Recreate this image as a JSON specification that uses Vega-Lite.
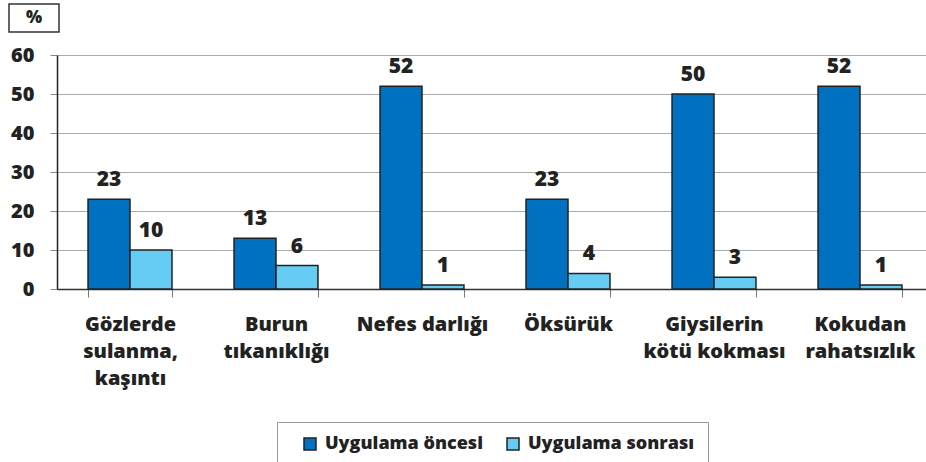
{
  "$schema": "https://vega.github.io/schema/vega-lite/v6.json",
  "autosize": {"type": "none"},
  "width": 876,
  "height": 234,
  "padding": {"left": 57, "top": 55, "right": 0, "bottom": 173},
  "background": "white",
  "config": {
    "view": {"stroke": null},
    "font": "Open Sans"
  },
  "data": {
    "values": [
      {"kategori": "Gözlerde|sulanma,|kaşıntı", "grup": "Uygulama öncesi", "deger": 23},
      {"kategori": "Gözlerde|sulanma,|kaşıntı", "grup": "Uygulama sonrası", "deger": 10},
      {"kategori": "Burun|tıkanıklığı", "grup": "Uygulama öncesi", "deger": 13},
      {"kategori": "Burun|tıkanıklığı", "grup": "Uygulama sonrası", "deger": 6},
      {"kategori": "Nefes darlığı", "grup": "Uygulama öncesi", "deger": 52},
      {"kategori": "Nefes darlığı", "grup": "Uygulama sonrası", "deger": 1},
      {"kategori": "Öksürük", "grup": "Uygulama öncesi", "deger": 23},
      {"kategori": "Öksürük", "grup": "Uygulama sonrası", "deger": 4},
      {"kategori": "Giysilerin|kötü kokması", "grup": "Uygulama öncesi", "deger": 50},
      {"kategori": "Giysilerin|kötü kokması", "grup": "Uygulama sonrası", "deger": 3},
      {"kategori": "Kokudan|rahatsızlık", "grup": "Uygulama öncesi", "deger": 52},
      {"kategori": "Kokudan|rahatsızlık", "grup": "Uygulama sonrası", "deger": 1}
    ]
  },
  "encoding": {
    "x": {
      "field": "kategori",
      "type": "nominal",
      "sort": null,
      "scale": {"paddingInner": 0.425, "paddingOuter": 0.2125},
      "axis": {
        "title": null,
        "labelAngle": 0,
        "labelExpr": "split(datum.label, '|')",
        "labelFont": "Open Sans",
        "labelFontWeight": 800,
        "labelFontSize": 20,
        "labelColor": "#222",
        "labelLineHeight": 27,
        "labelBaseline": "top",
        "labelPadding": 17,
        "tickSize": 8,
        "tickColor": "#777",
        "tickBand": "extent",
        "domainColor": "#333",
        "domainWidth": 1.5
      }
    },
    "xOffset": {"field": "grup", "type": "nominal", "sort": null, "scale": {"paddingInner": 0, "paddingOuter": 0}},
    "y": {
      "field": "deger",
      "type": "quantitative",
      "scale": {"domain": [0, 60]},
      "axis": {
        "title": null,
        "values": [0, 10, 20, 30, 40, 50, 60],
        "labelFont": "Open Sans",
        "labelFontWeight": 800,
        "labelFontSize": 20,
        "labelColor": "#222",
        "labelPadding": 16,
        "tickSize": 7,
        "tickColor": "#888",
        "gridColor": "#aaa",
        "domainColor": "#222",
        "domainWidth": 1.5
      }
    }
  },
  "layer": [
    {
      "mark": {"type": "bar", "stroke": "#222", "strokeWidth": 1.5},
      "encoding": {
        "color": {
          "field": "grup",
          "type": "nominal",
          "sort": null,
          "scale": {"range": ["#0070C0", "#66CCF4"]},
          "legend": {
            "title": null,
            "orient": "none",
            "direction": "horizontal",
            "legendX": 220,
            "legendY": 367,
            "strokeColor": "#999",
            "padding": 13,
            "symbolType": "square",
            "symbolSize": 144,
            "symbolStrokeColor": "#222",
            "symbolStrokeWidth": 1.5,
            "symbolOffset": 11,
            "labelFont": "Open Sans",
            "labelFontSize": 18,
            "labelFontWeight": 800,
            "labelColor": "#222",
            "labelLimit": 400,
            "columnPadding": 9,
            "labelOffset": 6
          }
        }
      }
    },
    {
      "mark": {"type": "point", "filled": false, "color": "#333", "opacity": 0},
      "encoding": {
        "shape": {
          "datum": "%",
          "scale": {"range": ["M-1,-0.56H1V0.56H-1Z"]},
          "legend": {
            "title": null,
            "orient": "none",
            "legendX": -49,
            "legendY": -63,
            "padding": 0,
            "symbolSize": 2500,
            "symbolOpacity": 1,
            "symbolFillColor": "transparent",
            "symbolStrokeColor": "#333",
            "symbolStrokeWidth": 1.5,
            "symbolOffset": 0,
            "labelOffset": -34,
            "labelFont": "Open Sans",
            "labelFontSize": 17,
            "labelFontWeight": 800,
            "labelColor": "#222"
          }
        }
      }
    },
    {
      "mark": {"type": "text", "baseline": "bottom", "dy": -9, "font": "Open Sans", "fontWeight": 800, "fontSize": 21, "color": "#222"},
      "encoding": {
        "text": {"field": "deger", "type": "quantitative"}
      }
    }
  ]
}
